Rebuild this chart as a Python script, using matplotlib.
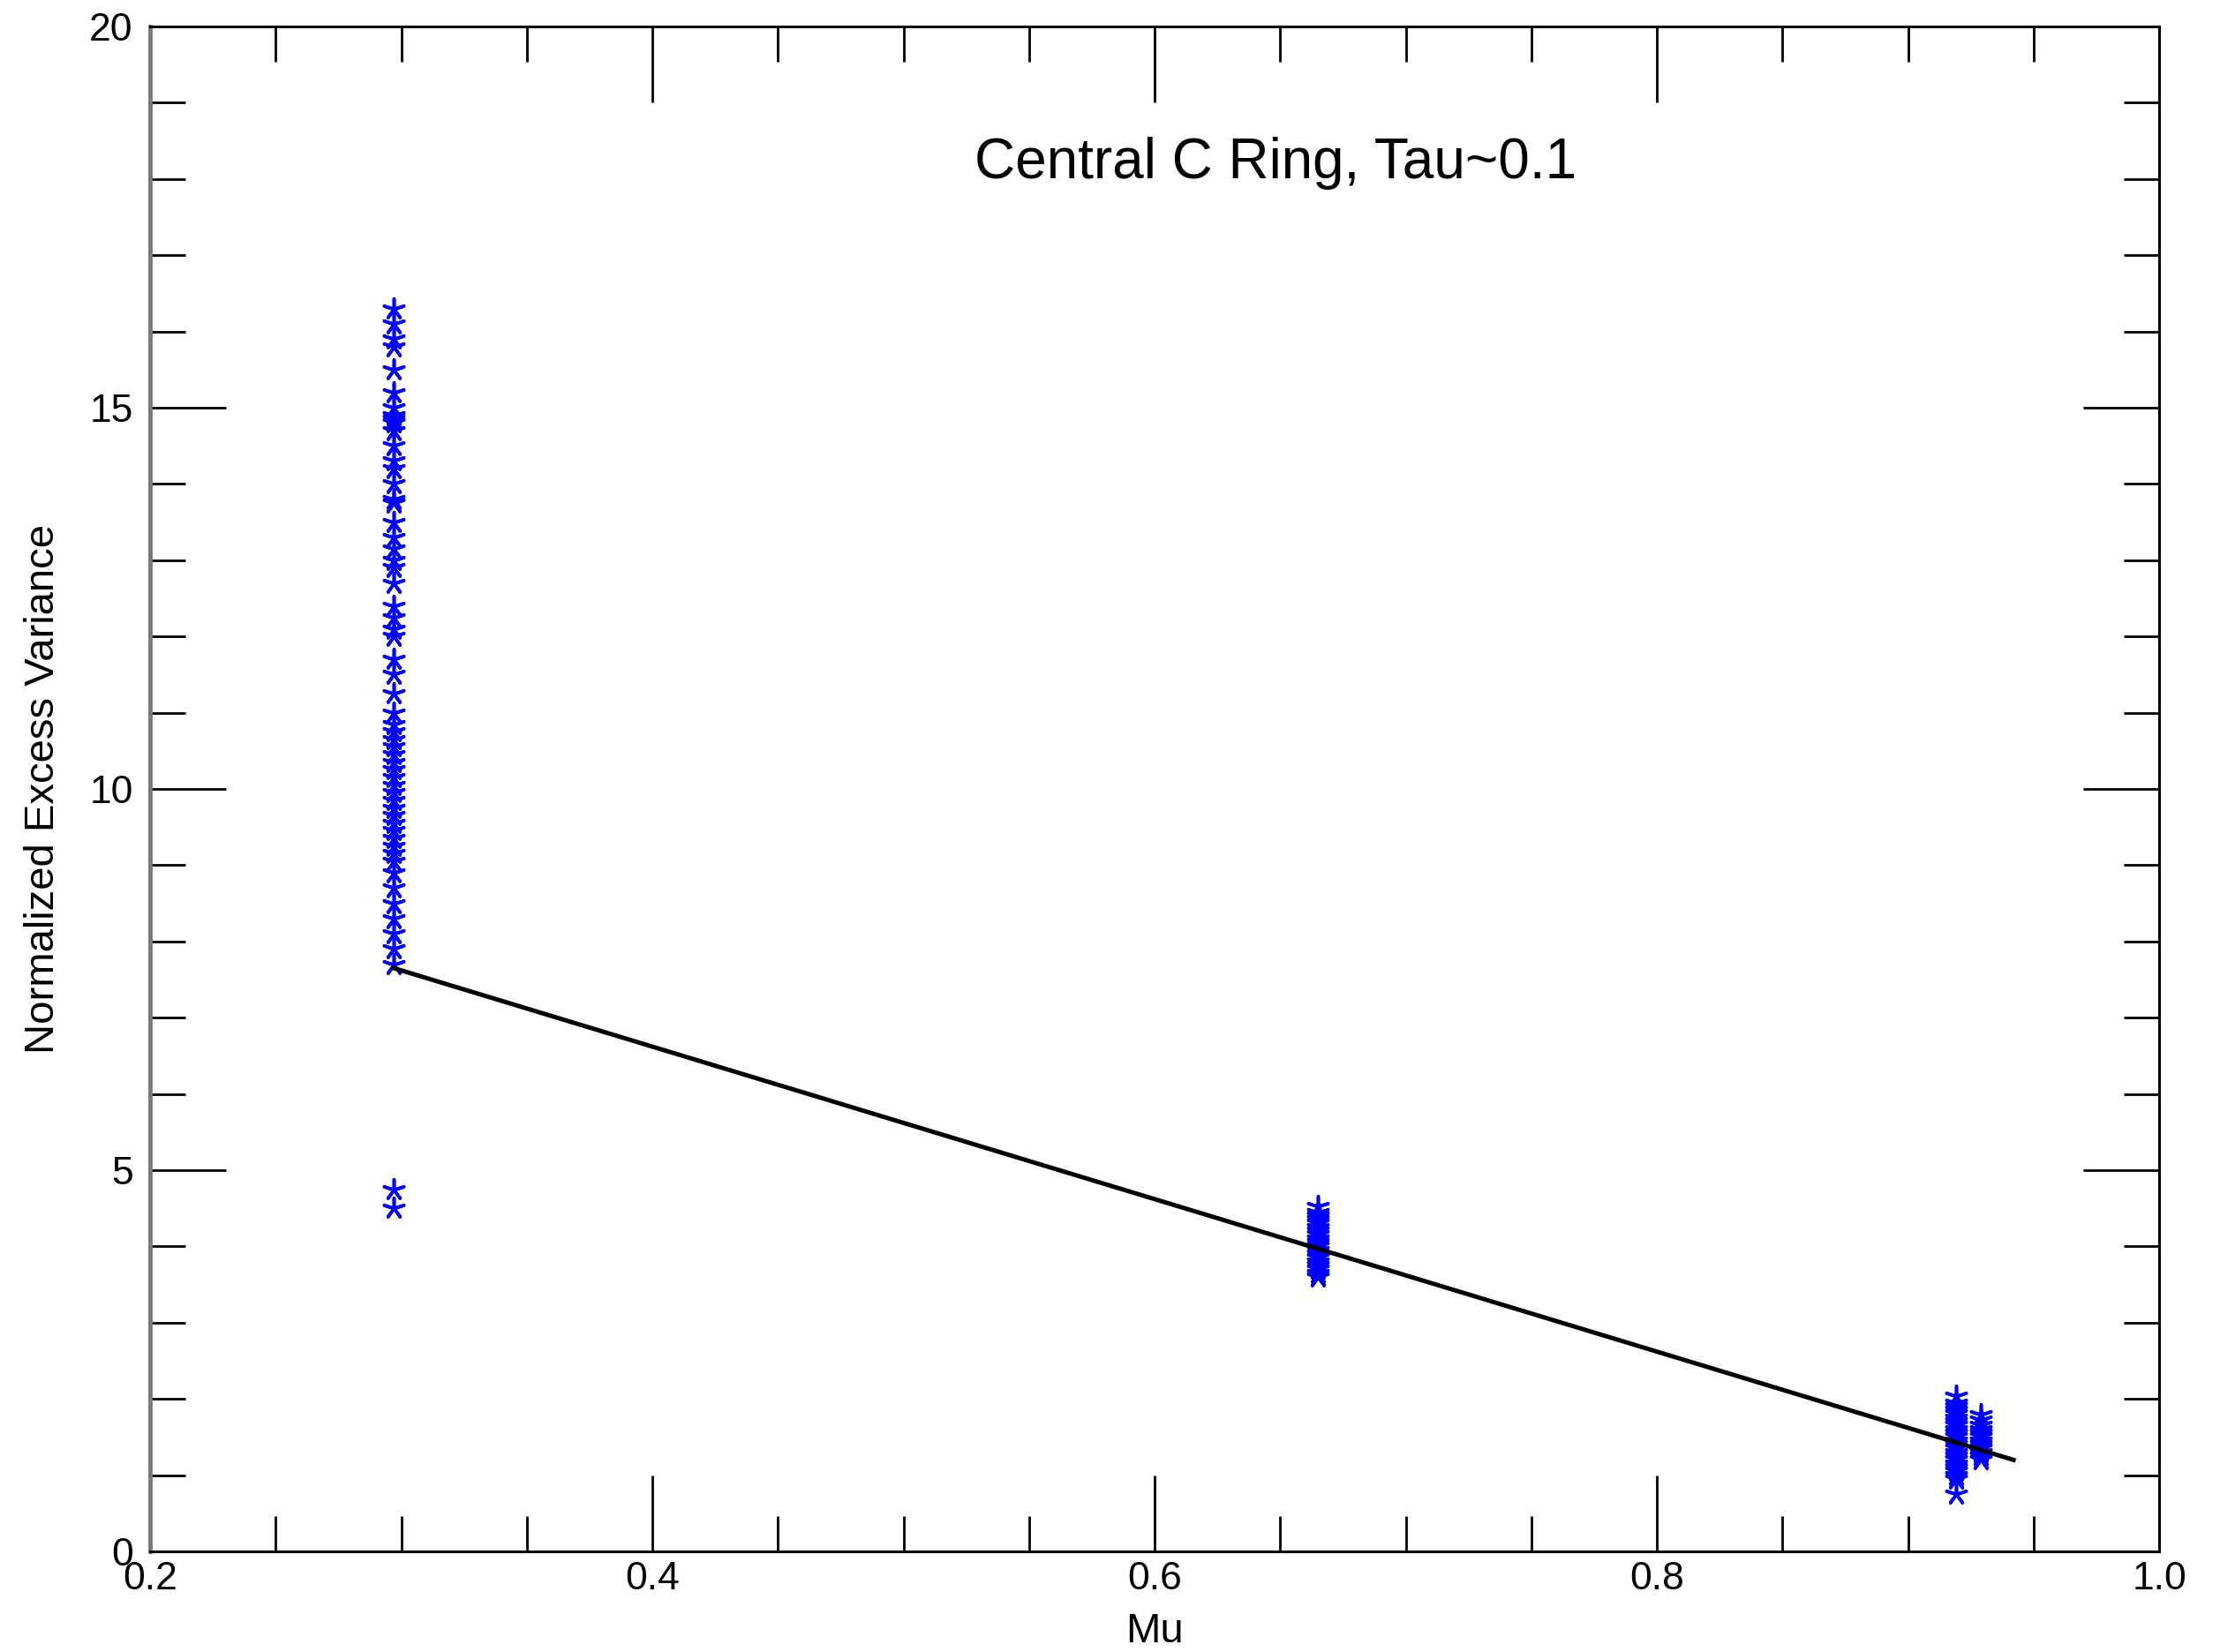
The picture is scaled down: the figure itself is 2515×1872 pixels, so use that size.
import matplotlib
matplotlib.use("Agg")
import matplotlib.pyplot as plt
from matplotlib.ticker import MultipleLocator

plt.rcParams['font.family'] = ['Liberation Sans', 'DejaVu Sans']

# Data
mu_c1 = 0.297
nev_c1 = [16.3, 16.1, 15.9, 15.8, 15.5, 15.2, 15.0, 14.9, 14.85, 14.8, 14.7, 14.5,
          14.3, 14.2, 14.0, 13.8, 13.75, 13.5, 13.3, 13.15, 13.0, 12.9, 12.7, 12.4,
          12.25, 12.1, 12.0, 11.7, 11.5, 11.25, 11.0, 10.85, 10.75, 10.65, 10.55,
          10.45, 10.35, 10.25, 10.15, 10.05, 9.95, 9.85, 9.75, 9.65, 9.55, 9.45,
          9.35, 9.25, 9.15, 9.05, 8.9, 8.7, 8.5, 8.3, 8.1, 7.9, 7.7, 4.75, 4.5]
mu_c2 = 0.665
nev_c2 = [4.52, 4.45, 4.4, 4.35, 4.3, 4.25, 4.2, 4.15, 4.1, 4.05, 4.0, 3.95,
          3.9, 3.85, 3.8, 3.75, 3.7, 3.65, 3.6]
mu_c3 = 0.919
nev_c3 = [2.04, 1.95, 1.9, 1.85, 1.8, 1.75, 1.7, 1.65, 1.6, 1.55, 1.5, 1.45,
          1.4, 1.35, 1.3, 1.25, 1.2, 1.15, 1.1, 1.05, 1.0, 0.95, 0.75]
mu_c4 = 0.929
nev_c4 = [1.79, 1.72, 1.65, 1.6, 1.55, 1.5, 1.45, 1.4, 1.35, 1.3, 1.25, 1.2]

fit_mu = [0.297, 0.942]
fit_nev = [7.65, 1.2]

title_text = "Central C Ring, Tau~0.1"

fig = plt.figure(figsize=(25.15, 18.72), dpi=100)
ax = fig.add_axes([0.0676, 0.0609, 0.905, 0.9231])

star = (5, 2, 0)
for mu, vals in [(mu_c1, nev_c1), (mu_c2, nev_c2), (mu_c3, nev_c3), (mu_c4, nev_c4)]:
    ax.scatter([mu] * len(vals), vals, marker=star, s=280, color='#0000ff',
               linewidths=2.6, zorder=3)

ax.plot(fit_mu, fit_nev, color='black', linewidth=3.6, zorder=4)

ax.set_xlim(0.2, 1.0)
ax.set_ylim(0, 20)
ax.xaxis.set_major_locator(MultipleLocator(0.2))
ax.xaxis.set_minor_locator(MultipleLocator(0.05))
ax.yaxis.set_major_locator(MultipleLocator(5))
ax.yaxis.set_minor_locator(MultipleLocator(1))
ax.set_xticks([0.2, 0.4, 0.6, 0.8, 1.0])
ax.set_xticklabels(['0.2', '0.4', '0.6', '0.8', '1.0'])
ax.set_yticks([0, 5, 10, 15, 20])
ax.set_yticklabels(['0', '5', '10', '15', '20'])

ax.tick_params(which='both', direction='in', top=True, right=True, color='black', width=2)
ax.tick_params(which='major', length=62)
ax.tick_params(which='minor', length=29)
ax.tick_params(axis='x', which='major', labelsize=32, pad=8)
ax.tick_params(axis='y', which='major', labelsize=32, pad=14)

for side in ['top', 'right', 'bottom']:
    ax.spines[side].set_linewidth(2.2)
    ax.spines[side].set_color('black')
ax.spines['left'].set_linewidth(3.5)
ax.spines['left'].set_color('#7a7a7a')

ax.set_xlabel('Mu', fontsize=34, labelpad=12)
ax.set_ylabel('Normalized Excess Variance', fontsize=34, labelpad=22)

ax.text(0.648, 18.21, title_text, fontsize=46, ha='center', va='center')

fig.savefig('out.png', dpi=100)
